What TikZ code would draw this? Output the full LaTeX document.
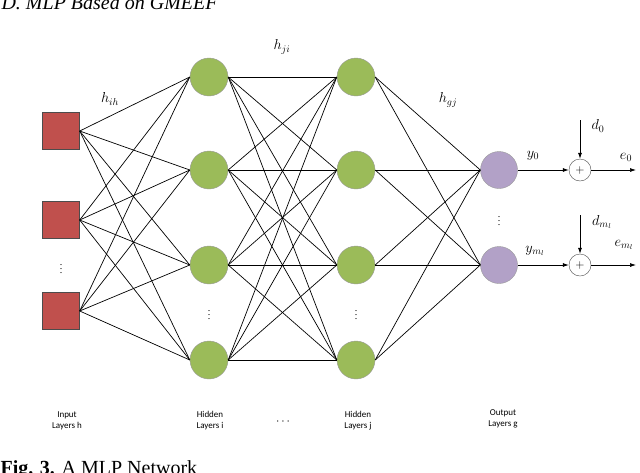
\documentclass[tikz,border=0pt]{standalone}
\usepackage{fontspec}
\setmainfont{Liberation Serif}
\newfontfamily\carlitofont{Carlito}
\usetikzlibrary{arrows.meta}
\begin{document}
\begin{tikzpicture}[x=1pt,y=-1pt,
  inp/.style={draw=black!70,fill={rgb,255:red,192;green,80;blue,77},minimum size=37pt,inner sep=0},
  hid/.style={circle,draw=black!40,fill={rgb,255:red,155;green,187;blue,89},minimum size=38pt,inner sep=0},
  outn/.style={circle,draw=black!40,fill={rgb,255:red,178;green,161;blue,199},minimum size=37pt,inner sep=0},
  sumn/.style={circle,draw=black!70,fill=white,minimum size=22pt,inner sep=0,font=\large},
  w/.style={black,line width=0.7pt},
  arr/.style={w,-{Latex[length=6pt,width=4pt]}},
  lab/.style={font=\carlitofont\small,align=center}]
\useasboundingbox (0,0) rectangle (640,472);
\clip (0,0) rectangle (640,472);
\node[anchor=west,font=\itshape\fontsize{20}{20}\selectfont] (title) at (-2,3) {D. MLP Based on GMEEF};
\node[inp] (h1) at (61,131) {};
\node[inp] (h2) at (61,220) {};
\node[inp] (h3) at (61,311) {};
\node (hd) at (61,266) {$\vdots$};
\foreach \k/\y in {1/77,2/170,3/265,4/360}{
  \node[hid] (i\k) at (209,\y) {};
  \node[hid] (j\k) at (356,\y) {};
}
\node (id) at (209,312) {$\vdots$};
\node (jd) at (356,312) {$\vdots$};
\node[outn] (g1) at (499,170) {};
\node[outn] (g2) at (499,265) {};
\node (gd) at (499,218) {$\vdots$};
\foreach \a in {1,2,3}{\foreach \b in {1,2,3,4}{\draw[w] (h\a.east) -- (i\b.west);}}
\foreach \a in {1,2,3,4}{\foreach \b in {1,2,3,4}{\draw[w] (i\a.east) -- (j\b.west);}}
\foreach \a in {1,2,3,4}{\foreach \b in {1,2}{\draw[w] (j\a.east) -- (g\b.west);}}
\node[sumn] (s1) at (580,170) {$+$};
\node[sumn] (s2) at (580,265) {$+$};
\coordinate (d1) at (580,120);
\coordinate (d2) at (580,215);
\coordinate (e1) at (636,170);
\coordinate (e2) at (636,265);
\draw[arr] (g1) -- (s1);
\draw[arr] (g2) -- (s2);
\draw[arr] (d1) -- (s1);
\draw[arr] (d2) -- (s2);
\draw[arr] (s1) -- (e1);
\draw[arr] (s2) -- (e2);
\node[font=\Large] (ly1) at (533,156) {$y_0$};
\node[font=\Large] (ly2) at (535,251) {$y_{m_l}$};
\node[font=\Large] (ld1) at (598,126) {$d_0$};
\node[font=\Large] (ld2) at (602,222) {$d_{m_l}$};
\node[font=\Large] (le1) at (626,157) {$e_0$};
\node[font=\Large] (le2) at (624,245) {$e_{m_l}$};
\node[font=\Large] (w1) at (110,99) {$h_{ih}$};
\node[font=\Large] (w2) at (282,47) {$h_{ji}$};
\node[font=\Large] (w3) at (448,100) {$h_{gj}$};
\node[lab] (l1) at (67,421) {Input\\Layers h};
\node[lab] (l2) at (210,421) {Hidden\\Layers i};
\node[lab] (l3) at (358,421) {Hidden\\Layers j};
\node[lab] (l4) at (503,419) {Output\\Layers g};
\node[font=\large] (ld) at (283,422) {$\cdots$};
\node[anchor=west,font=\fontsize{20}{20}\selectfont] (cap) at (-3,470) {\textbf{Fig. 3.} A MLP Network};
\end{tikzpicture}
\end{document}
